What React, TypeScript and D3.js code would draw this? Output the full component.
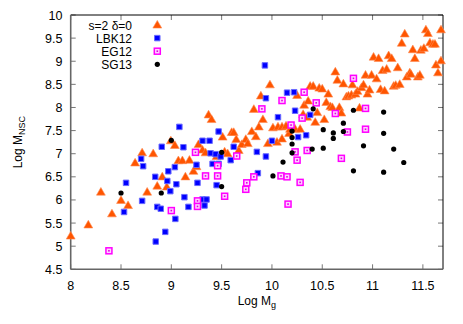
import React, { useRef, useEffect } from "react";
import * as d3 from "d3";

// s=2 delta=0 model points (Log Mg, Log MNSC)
const model: [number, number][] = [
  [8.0, 5.22], [8.175, 5.46], [8.3, 6.17], [8.41, 5.7], [8.5, 5.99], [8.57, 5.88],
  [8.64, 6.8], [8.71, 7.02], [8.76, 6.17], [8.82, 7.0], [8.86, 6.3], [8.91, 6.5],
  [8.955, 6.28], [8.995, 7.28], [9.035, 7.18], [9.07, 6.85], [9.11, 6.85], [9.14, 6.5],
  [9.18, 6.86], [9.22, 6.62], [9.25, 6.72], [9.27, 7.2], [9.31, 7.08], [9.34, 7.02],
  [9.37, 7.84], [9.4, 7.74], [9.45, 6.94], [9.51, 7.36], [9.53, 7.04], [9.56, 7.0],
  [9.6, 7.46], [9.62, 7.46], [9.645, 7.31], [9.67, 7.07], [9.7, 7.2], [9.74, 7.31],
  [9.76, 7.22], [9.8, 7.48], [9.82, 7.96], [9.84, 7.37], [9.87, 7.58], [9.89, 8.25],
  [9.91, 7.74], [9.96, 7.22], [9.98, 8.49], [10.01, 7.56], [10.05, 7.25], [10.06, 7.58],
  [10.1, 7.32], [10.1, 7.58], [10.14, 7.6], [10.17, 7.44], [10.18, 7.53], [10.23, 7.53],
  [10.28, 7.53], [10.25, 8.26], [10.31, 7.85], [10.35, 7.79], [10.32, 8.05], [10.36, 8.14],
  [10.38, 8.46], [10.41, 8.46], [10.43, 7.68], [10.45, 7.89], [10.47, 8.42], [10.5, 8.4],
  [10.52, 7.74], [10.54, 8.11], [10.56, 8.29], [10.58, 8.02], [10.6, 8.0], [10.63, 8.77],
  [10.65, 8.59], [10.67, 8.0], [10.69, 7.88], [10.71, 8.51], [10.74, 8.23], [10.76, 8.25],
  [10.79, 8.27], [10.8, 8.49], [10.83, 8.29], [10.85, 8.35], [10.87, 7.99], [10.89, 8.43],
  [10.91, 8.49], [10.93, 8.7], [10.95, 8.29], [10.97, 8.38], [10.99, 8.7], [11.01, 9.09],
  [11.04, 8.62], [11.06, 9.06], [11.08, 8.39], [11.1, 8.8], [11.12, 8.36], [11.14, 8.83],
  [11.16, 9.12], [11.19, 9.06], [11.21, 8.46], [11.23, 8.48], [11.25, 8.86], [11.27, 8.5],
  [11.29, 9.39], [11.32, 9.59], [11.34, 8.66], [11.37, 8.75], [11.38, 8.72], [11.4, 9.25],
  [11.42, 9.06], [11.45, 8.66], [11.47, 8.7], [11.48, 9.24], [11.51, 9.28], [11.53, 9.68],
  [11.55, 9.6], [11.57, 9.4], [11.6, 9.37], [11.62, 9.37], [11.63, 8.92], [11.65, 8.75],
  [11.68, 9.68], [11.68, 9.01],
];

const lbk12: [number, number][] = [
  [8.53, 5.74], [8.55, 6.37], [8.7, 6.89], [8.71, 5.98], [8.72, 6.73], [8.84, 6.5],
  [8.845, 5.1], [8.86, 5.85], [8.895, 5.81], [8.905, 7.15], [8.94, 5.31], [8.96, 6.41],
  [8.97, 6.62], [8.99, 6.19], [9.035, 6.71], [9.04, 5.59], [9.05, 6.34], [9.08, 7.58],
  [9.12, 7.14], [9.13, 6.06], [9.17, 5.85], [9.25, 6.76], [9.26, 6.37], [9.31, 7.28],
  [9.38, 7.28], [9.39, 7.01], [9.44, 6.99], [9.49, 6.94], [9.41, 6.78], [9.47, 6.78],
  [9.31, 6.01], [9.35, 6.01], [9.33, 5.88], [9.45, 6.32], [9.47, 7.48], [9.59, 6.86],
  [9.62, 7.15], [9.85, 7.04], [9.86, 6.58], [9.93, 8.91], [9.94, 6.94], [9.94, 8.2],
  [10.0, 7.28], [10.06, 7.79], [10.15, 8.32], [10.22, 8.33], [10.23, 7.93], [10.26, 7.36],
  [10.34, 7.4], [10.38, 7.84],
];

const eg12: [number, number][] = [
  [8.38, 4.9], [9.0, 5.77], [9.24, 7.03], [9.26, 5.98], [9.26, 5.86], [9.34, 6.52],
  [9.46, 6.52], [9.46, 6.74], [9.53, 6.08], [9.65, 6.95], [9.74, 6.23], [9.75, 6.37],
  [9.82, 6.5], [9.9, 7.97], [10.09, 6.52], [10.1, 8.15], [10.15, 6.5], [10.16, 5.91],
  [10.19, 7.62], [10.23, 7.04], [10.25, 6.86], [10.28, 6.38], [10.3, 7.77], [10.32, 8.33],
  [10.35, 7.07], [10.44, 8.1], [10.63, 7.87], [10.69, 6.9], [10.75, 7.47], [10.81, 8.63],
  [10.93, 7.98], [10.93, 7.53],
];

const sg13: [number, number][] = [
  [8.5, 6.15], [8.9, 6.15], [9.0, 7.29], [9.5, 7.03], [9.5, 6.29], [10.01, 6.52],
  [10.11, 6.82], [10.2, 7.49], [10.2, 7.35], [10.2, 7.21], [10.2, 7.02], [10.4, 7.1],
  [10.41, 7.97], [10.51, 7.52], [10.51, 7.12], [10.61, 7.45], [10.61, 7.33], [10.71, 7.66],
  [10.71, 7.48], [10.81, 7.94], [10.81, 6.63], [10.91, 7.17], [11.11, 7.9], [11.11, 7.44],
  [11.11, 6.6], [11.21, 7.1], [11.31, 6.81],
];

const xTicks = [8, 8.5, 9, 9.5, 10, 10.5, 11, 11.5];
const yTicks = [4.5, 5, 5.5, 6, 6.5, 7, 7.5, 8, 8.5, 9, 9.5, 10];
const legendLabels = ["s=2 δ=0", "LBK12", "EG12", "SG13"];

const W = 463;
const H = 324;

export default function App() {
  const ref = useRef<SVGSVGElement>(null);

  useEffect(() => {
    const svg = d3.select(ref.current);
    svg.selectAll("*").remove();

    const left = 70.7, right = 443, top = 15, bottom = 269.3;
    const x = d3.scaleLinear().domain([8, 11.7]).range([left, right]);
    const y = d3.scaleLinear().domain([4.5, 10]).range([bottom, top]);
    const font = "'Liberation Sans', Arial, sans-serif";

    svg.append("rect").attr("width", W).attr("height", H).attr("fill", "#fff");

    // ticks (inward, mirrored)
    const tk = svg.append("g").attr("stroke", "#777").attr("stroke-width", 1);
    xTicks.forEach((t) => {
      tk.append("line").attr("x1", x(t)).attr("x2", x(t)).attr("y1", bottom).attr("y2", bottom - 5);
      tk.append("line").attr("x1", x(t)).attr("x2", x(t)).attr("y1", top).attr("y2", top + 5);
    });
    yTicks.forEach((t) => {
      tk.append("line").attr("x1", left).attr("x2", left + 5).attr("y1", y(t)).attr("y2", y(t));
      tk.append("line").attr("x1", right).attr("x2", right - 5).attr("y1", y(t)).attr("y2", y(t));
    });

    // border
    svg.append("line").attr("x1", left).attr("x2", right).attr("y1", top).attr("y2", top)
      .attr("stroke", "#000").attr("stroke-width", 1);
    svg.append("line").attr("x1", right).attr("x2", right).attr("y1", top).attr("y2", bottom)
      .attr("stroke", "#000").attr("stroke-width", 1);
    svg.append("line").attr("x1", left).attr("x2", left).attr("y1", top).attr("y2", bottom)
      .attr("stroke", "#666").attr("stroke-width", 1.6);
    svg.append("line").attr("x1", left).attr("x2", right).attr("y1", bottom).attr("y2", bottom)
      .attr("stroke", "#666").attr("stroke-width", 1.6);

    // tick labels
    svg.append("g").selectAll("text").data(xTicks).enter().append("text")
      .attr("x", (d) => x(d)).attr("y", 290).attr("text-anchor", "middle")
      .attr("font-family", font).attr("font-size", 12.5).text((d) => String(d));
    svg.append("g").selectAll("text").data(yTicks).enter().append("text")
      .attr("x", 62.5).attr("y", (d) => y(d) + 4.5).attr("text-anchor", "end")
      .attr("font-family", font).attr("font-size", 12.5).text((d) => String(d));

    // axis labels
    const xl = svg.append("text").attr("x", (left + right) / 2).attr("y", 305)
      .attr("text-anchor", "middle").attr("font-family", font).attr("font-size", 12);
    xl.append("tspan").text("Log M");
    xl.append("tspan").attr("dy", 3).attr("font-size", 9).text("g");
    const yl = svg.append("text").attr("transform", `translate(22,${(top + bottom) / 2}) rotate(-90)`)
      .attr("text-anchor", "middle").attr("font-family", font).attr("font-size", 12);
    yl.append("tspan").text("Log M");
    yl.append("tspan").attr("dy", 3).attr("font-size", 9).text("NSC");

    const tri = d3.symbol().type(d3.symbolTriangle).size(34);
    const sq = d3.symbol().type(d3.symbolSquare).size(30);

    const drawTri = (g: any, px: number, py: number) =>
      g.append("path").attr("d", tri()).attr("transform", `translate(${px},${py + 0.5})`)
        .attr("fill", "#ff5500").attr("stroke", "#ff8a50").attr("stroke-width", 0.6);
    const drawBlue = (g: any, px: number, py: number) =>
      g.append("path").attr("d", sq()).attr("transform", `translate(${px},${py})`)
        .attr("fill", "#0000ff").attr("stroke", "#6a6aff").attr("stroke-width", 1);
    const drawMag = (g: any, px: number, py: number) => {
      g.append("rect").attr("x", px - 3).attr("y", py - 3).attr("width", 6).attr("height", 6)
        .attr("fill", "#ffd0ff").attr("stroke", "#ff00ff").attr("stroke-width", 1.5);
      g.append("rect").attr("x", px - 0.8).attr("y", py - 0.8).attr("width", 1.6).attr("height", 1.6)
        .attr("fill", "#e000e0");
    };
    const drawDot = (g: any, px: number, py: number) =>
      g.append("circle").attr("cx", px).attr("cy", py).attr("r", 2.6).attr("fill", "#000");

    const pts = svg.append("g");
    model.forEach((d) => drawTri(pts, x(d[0]), y(d[1])));
    lbk12.forEach((d) => drawBlue(pts, x(d[0]), y(d[1])));
    eg12.forEach((d) => drawMag(pts, x(d[0]), y(d[1])));
    sg13.forEach((d) => drawDot(pts, x(d[0]), y(d[1])));

    // legend
    const lg = svg.append("g");
    const drawers = [drawTri, drawBlue, drawMag, drawDot];
    legendLabels.forEach((lab, i) => {
      const ly = 25 + i * 13.1;
      lg.append("text").attr("x", 132).attr("y", ly + 4.5).attr("text-anchor", "end")
        .attr("font-family", font).attr("font-size", 12).text(lab);
      drawers[i](lg, 157.3, ly);
    });
  }, []);

  return (
    <svg
      ref={ref}
      width={W}
      height={H}
      style={{ position: "absolute", left: 0, top: 0, display: "block" }}
    />
  );
}
